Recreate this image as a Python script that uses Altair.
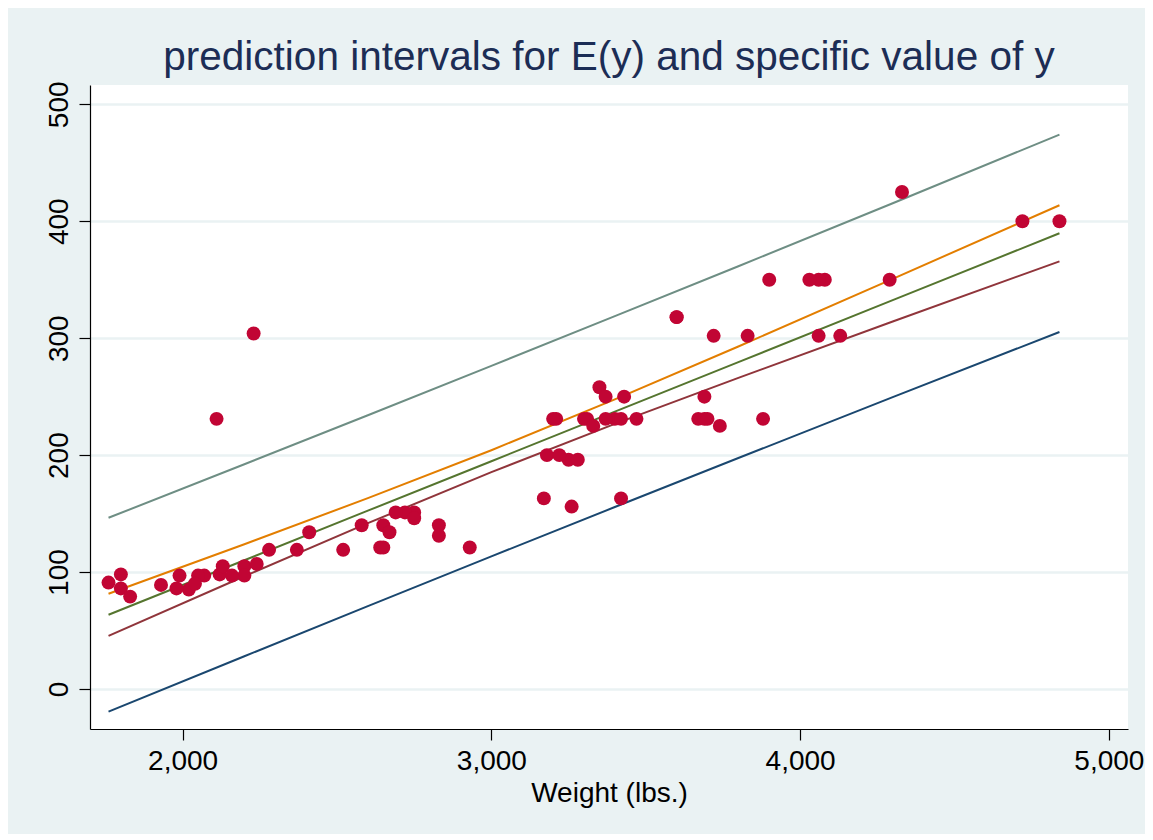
import altair as alt
import pandas as pd

# Scatter data: weight (lbs.) and displacement
weight = [
    2930, 3350, 2640, 3250, 4080, 3670, 2230, 3280, 3880, 3400,
    4330, 3900, 4290, 2110, 3690, 3180, 3220, 2750, 3430, 2120,
    3600, 3600, 3740, 1800, 2650, 4840, 4720, 3830, 2580, 4060,
    3720, 3370, 4130, 2830, 4060, 3310, 3300, 3690, 3370, 2720,
    4030, 3260, 1800, 2200, 2520, 3330, 3700, 3470, 3210, 3200,
    3420, 2690, 2830, 2070, 2650, 2370, 2020, 2280, 2750, 2130,
    2240, 1760, 1980, 3420, 1830, 2050, 2410, 2200, 2670, 2160,
    2040, 1930, 1990, 3170,
]
displacement = [
    121, 258, 121, 196, 350, 231, 304, 196, 231, 231,
    425, 350, 350, 231, 250, 200, 200, 151, 250, 98,
    318, 318, 225, 98, 140, 400, 400, 302, 140, 302,
    302, 250, 302, 140, 350, 231, 231, 231, 231, 151,
    350, 156, 86, 105, 119, 225, 231, 231, 231, 231,
    231, 151, 131, 97, 121, 119, 85, 119, 146, 105,
    107, 91, 86, 163, 79, 97, 134, 97, 134, 97,
    90, 89, 97, 163,
]

# Fitted line and interval bounds
line_weight = [1760, 2200, 2600, 3000, 3400, 3800, 4300, 4840]
fit = [63.5, 110.1, 152.5, 194.8, 237.2, 279.5, 332.5, 389.7]
ci_lo = [45.5, 96.4, 141.8, 185.4, 226.7, 266.1, 314.3, 365.7]
ci_hi = [81.5, 123.8, 163.2, 204.2, 247.7, 292.9, 350.7, 413.7]
pi_lo = [-19.4, 28.0, 70.9, 113.4, 155.6, 197.5, 249.6, 305.3]
pi_hi = [146.4, 192.2, 234.1, 276.3, 318.8, 361.5, 415.4, 474.1]

series_names = ["pi_lo", "ci_lo", "fit", "ci_hi", "pi_hi"]
series_colors = ["#1a476f", "#90353b", "#55752f", "#e37e00", "#6e8e84"]

x_ticks = [2000, 3000, 4000, 5000]
y_ticks = [0, 100, 200, 300, 400, 500]

pts = pd.DataFrame({"weight": weight, "displacement": displacement})
rows = []
for name, vals in zip(series_names, [pi_lo, ci_lo, fit, ci_hi, pi_hi]):
    for w, v in zip(line_weight, vals):
        rows.append({"weight": w, "value": v, "series": name})
lines_df = pd.DataFrame(rows)

FONT = "Liberation Sans"

xscale = alt.Scale(domain=[1700, 5062], nice=False, zero=False)
yscale = alt.Scale(domain=[-34.2, 516.5], nice=False, zero=False)

xaxis = alt.Axis(
    title="Weight (lbs.)", values=x_ticks, format=",.0f", grid=False,
    labelFontSize=28, titleFontSize=28, labelFont=FONT, titleFont=FONT,
    labelColor="black", titleColor="black", titleFontWeight="normal",
    tickSize=11, tickColor="black", domainColor="black", domainWidth=1.2,
    tickWidth=1.2, labelPadding=7, titlePadding=4,
)
yaxis = alt.Axis(
    title=None, values=y_ticks, grid=True, gridColor="#eaf2f3", gridWidth=2.5,
    labelFontSize=28, labelFont=FONT, labelColor="black",
    labelAngle=270, labelAlign="center", labelBaseline="alphabetic",
    labelPadding=12, tickSize=11, tickColor="black", domainColor="black",
    domainWidth=1.2, tickWidth=1.2,
)

lines = alt.Chart(lines_df).mark_line(strokeWidth=2).encode(
    x=alt.X("weight:Q", scale=xscale, axis=xaxis),
    y=alt.Y("value:Q", scale=yscale, axis=yaxis),
    color=alt.Color("series:N", scale=alt.Scale(domain=series_names, range=series_colors), legend=None),
)

points = alt.Chart(pts).mark_circle(size=195, color="#c10534", opacity=1).encode(
    x=alt.X("weight:Q", scale=xscale, axis=xaxis),
    y=alt.Y("displacement:Q", scale=yscale, axis=yaxis),
)

chart = alt.layer(lines, points).properties(
    width=1038,
    height=644,
    title=alt.Title(
        "prediction intervals for E(y) and specific value of y",
        fontSize=40.5, font=FONT, color="#1c2d55", fontWeight="normal",
        anchor="middle", baseline="bottom", offset=-39, frame="group",
    ),
    padding={"left": 82, "top": 77, "right": 17, "bottom": 105},
    autosize=alt.AutoSizeParams(type="none"),
    background="#eaf2f3",
).configure_view(stroke=None, fill="white")

chart.save("out.html", embed_options={"renderer": "svg", "actions": False})
